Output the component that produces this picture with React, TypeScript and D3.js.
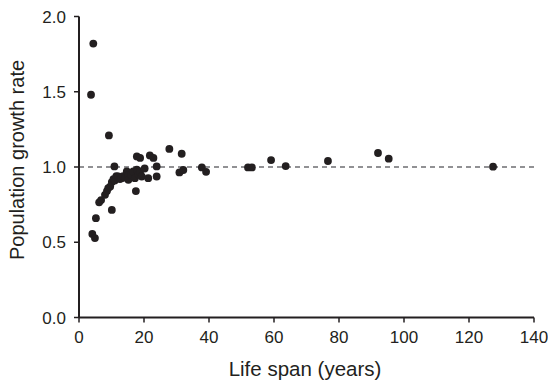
import React from "react";
import * as d3 from "d3";

const lifeSpan = [
  3.7, 4.4, 9.2, 4.1, 4.9, 5.2, 6.2, 6.8, 8.0, 10.1,
  8.6, 9.0, 9.6, 10.1, 10.6, 11.0, 10.9, 11.5, 12.1, 12.6,
  13.1, 13.6, 14.2, 14.7, 15.2, 15.2, 16.0, 16.7, 17.2, 17.8,
  18.3, 18.8, 19.3, 20.2, 17.5, 17.8, 18.8, 21.8, 22.9, 23.9,
  21.3, 23.9, 27.8, 31.6, 30.9, 32.1, 37.8, 39.1, 52.0, 53.2,
  59.1, 63.6, 76.6, 92.0, 95.3, 127.4,
];
const growthRate = [
  1.48, 1.82, 1.21, 0.555, 0.528, 0.66, 0.765, 0.78, 0.815, 0.715,
  0.84, 0.86, 0.87, 0.9, 0.92, 0.91, 1.004, 0.94, 0.937, 0.92,
  0.926, 0.94, 0.93, 0.97, 0.948, 0.915, 0.95, 0.97, 0.926, 0.982,
  0.95, 0.97, 0.937, 0.99, 0.84, 1.07, 1.06, 1.077, 1.06, 1.004,
  0.926, 0.937, 1.12, 1.088, 0.964, 0.98, 0.997, 0.968, 0.997, 0.997,
  1.046, 1.006, 1.04, 1.093, 1.055, 1.002,
];
const xTicks = [0, 20, 40, 60, 80, 100, 120, 140];
const yTicks = [0, 0.5, 1.0, 1.5, 2.0];
const referenceRate = 1.0;

export default function App() {
  const W = 548, H = 381;
  const x = d3.scaleLinear().domain([0, 140]).range([79, 534]);
  const y = d3.scaleLinear().domain([0, 2]).range([317.5, 16.5]);
  const font = "Liberation Sans, Arial, sans-serif";
  const ink = "#231f20";
  return (
    <svg width={W} height={H} style={{ position: "absolute", left: 0, top: 0, background: "#fff" }}>
      <line x1={x(0)} x2={x(140)} y1={y(referenceRate)} y2={y(referenceRate)}
        stroke="#6d6e71" strokeWidth={1.5} strokeDasharray="5,4" />
      <line x1={x(0)} x2={x(0)} y1={y(0)} y2={y(2)} stroke={ink} strokeWidth={2} />
      <line x1={x(0)} x2={x(140)} y1={y(0)} y2={y(0)} stroke={ink} strokeWidth={2} />
      {yTicks.map((t) => (
        <g key={"y" + t}>
          <line x1={x(0) - 5} x2={x(0)} y1={y(t)} y2={y(t)} stroke={ink} strokeWidth={1.5} />
          <text x={x(0) - 13} y={y(t)} dy="0.36em" textAnchor="end" fontFamily={font} fontSize={17} fill={ink}>
            {t.toFixed(1)}
          </text>
        </g>
      ))}
      {xTicks.map((t) => (
        <g key={"x" + t}>
          <line x1={x(t)} x2={x(t)} y1={y(0)} y2={y(0) + 5} stroke={ink} strokeWidth={1.5} />
          <text x={x(t)} y={y(0) + 25} textAnchor="middle" fontFamily={font} fontSize={17} fill={ink}>
            {t}
          </text>
        </g>
      ))}
      <text x={305} y={376} textAnchor="middle" fontFamily={font} fontSize={20.5} fill={ink}>
        Life span (years)
      </text>
      <text transform="translate(24,160) rotate(-90)" textAnchor="middle"
        fontFamily={font} fontSize={20} fill={ink}>
        Population growth rate
      </text>
      {lifeSpan.map((v, i) => (
        <circle key={i} cx={x(v)} cy={y(growthRate[i])} r={3.9} fill={ink} />
      ))}
    </svg>
  );
}
